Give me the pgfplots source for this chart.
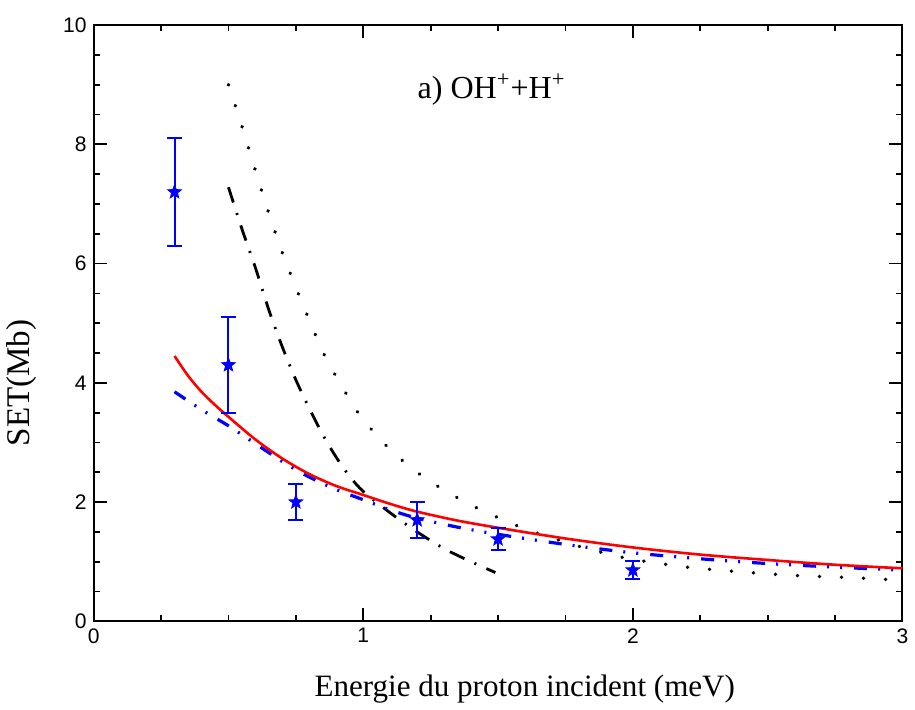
\documentclass[border=0pt]{standalone}
\usepackage{fontspec}
\setmainfont{Liberation Serif}
\setsansfont{Liberation Sans}
\usepackage{pgfplots}
\pgfplotsset{compat=1.18}
\pgfdeclareplotmark{fstar}{%
  \pgfpathmoveto{\pgfpointpolar{90}{\pgfplotmarksize}}%
  \pgfpathlineto{\pgfpointpolar{126}{0.42\pgfplotmarksize}}%
  \pgfpathlineto{\pgfpointpolar{162}{\pgfplotmarksize}}%
  \pgfpathlineto{\pgfpointpolar{198}{0.42\pgfplotmarksize}}%
  \pgfpathlineto{\pgfpointpolar{234}{\pgfplotmarksize}}%
  \pgfpathlineto{\pgfpointpolar{270}{0.42\pgfplotmarksize}}%
  \pgfpathlineto{\pgfpointpolar{306}{\pgfplotmarksize}}%
  \pgfpathlineto{\pgfpointpolar{342}{0.42\pgfplotmarksize}}%
  \pgfpathlineto{\pgfpointpolar{18}{\pgfplotmarksize}}%
  \pgfpathlineto{\pgfpointpolar{54}{0.42\pgfplotmarksize}}%
  \pgfpathclose
  \pgfusepathqfillstroke}
\begin{document}
\begin{tikzpicture}
\begin{axis}[
  width=403.5pt, height=297.5pt, scale only axis,
  xmin=0, xmax=3, ymin=0, ymax=10,
  xtick={0,1,2,3}, ytick={0,2,4,6,8,10},
  minor x tick num=3, minor y tick num=3,
  tick align=inside, tick pos=both,
  major tick length=6.5pt, minor tick length=3pt,
  every tick/.style={black, line width=0.9pt},
  axis line style={line width=1pt},
  ticklabel style={font=\sffamily\fontsize{10.5}{12}\selectfont},
  /pgf/number format/assume math mode=true,
  xlabel={Energie du proton incident (meV)},
  ylabel={SET(Mb)},
  xlabel style={font=\fontsize{15.5}{18}\selectfont, at={(axis description cs:0.533,-0.113)}, anchor=center},
  ylabel style={font=\fontsize{16.5}{19}\selectfont, at={(axis description cs:-0.089,0.40)}, anchor=center},
  clip=true,
]
% black dotted
\addplot[black, line width=1.8pt, line cap=round, dash pattern=on 0.1pt off 10.9pt, smooth] coordinates {
(0.50,9.00)(0.55,8.30)(0.60,7.56)(0.65,6.84)(0.70,6.18)(0.75,5.60)(0.80,5.05)(0.85,4.52)(0.90,4.10)(0.95,3.72)(1.00,3.38)(1.10,2.88)(1.20,2.50)(1.30,2.20)(1.40,1.95)(1.50,1.74)(1.60,1.55)(1.70,1.40)(1.80,1.26)(1.90,1.14)(2.00,1.04)(2.20,0.91)(2.40,0.83)(2.60,0.77)(2.80,0.735)(3.00,0.69)};
% black dash-dot
\addplot[black, line width=1.4pt, dash pattern=on 8pt off 5.5pt on 1pt off 5.5pt, smooth] coordinates {
(0.50,7.28)(0.55,6.58)(0.60,5.93)(0.65,5.22)(0.70,4.60)(0.75,4.05)(0.80,3.57)(0.85,3.13)(0.90,2.75)(0.95,2.43)(1.00,2.18)(1.10,1.82)(1.20,1.50)(1.30,1.22)(1.40,1.00)(1.49,0.82)};
% blue dash-dot-dot
\addplot[blue, line width=1.6pt, dash pattern=on 6.5pt off 5.5pt on 1pt off 5.5pt on 1pt off 6pt, smooth] coordinates {
(0.30,3.85)(0.40,3.55)(0.50,3.28)(0.60,2.98)(0.70,2.68)(0.80,2.42)(0.90,2.21)(1.00,2.04)(1.10,1.87)(1.20,1.73)(1.35,1.58)(1.50,1.46)(1.75,1.29)(2.00,1.15)(2.25,1.05)(2.50,0.97)(2.75,0.91)(3.00,0.86)};
% red solid
\addplot[red, line width=1.3pt, smooth] coordinates {
(0.30,4.45)(0.35,4.12)(0.40,3.85)(0.45,3.63)(0.50,3.43)(0.60,3.05)(0.70,2.73)(0.80,2.47)(0.90,2.27)(1.00,2.12)(1.10,1.97)(1.20,1.84)(1.35,1.69)(1.50,1.57)(1.75,1.39)(2.00,1.24)(2.25,1.12)(2.50,1.03)(2.75,0.95)(3.00,0.89)};
% experimental points
\addplot[blue, only marks, mark=fstar, mark size=3.6pt, mark options={fill=blue, line width=0.4pt},
  error bars/.cd, y dir=both, y explicit,
  error bar style={blue, line width=1pt},
  error mark options={rotate=90, blue, mark size=3.75pt, line width=1pt}]
  table[x=x, y=y, y error=e] {
x y e
0.30 7.20 0.90
0.50 4.30 0.80
0.75 2.00 0.30
1.20 1.70 0.30
1.50 1.38 0.19
2.00 0.86 0.15
};
\node[font=\fontsize{16}{19}\selectfont] at (axis cs:1.476,8.92) {a) OH\textsuperscript{+}+H\textsuperscript{+}};
\end{axis}
\path (current axis.north west) ++(0,12.5pt);
\end{tikzpicture}
\end{document}
